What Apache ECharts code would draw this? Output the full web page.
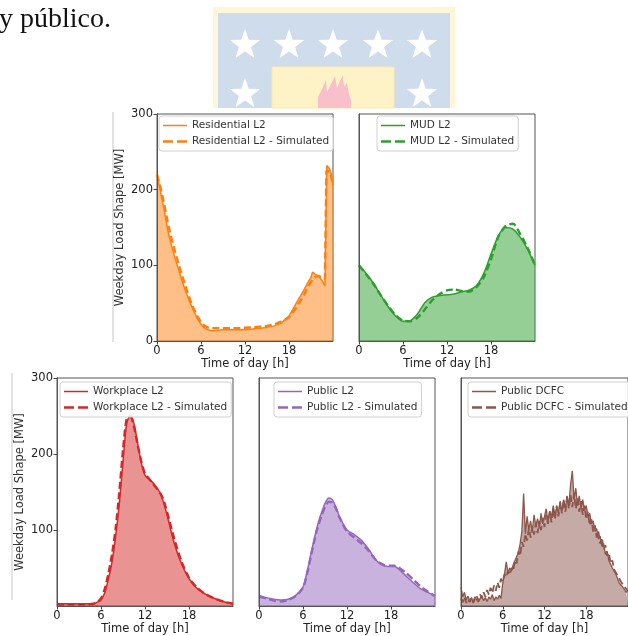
<!DOCTYPE html>
<html><head><meta charset="utf-8">
<script src="https://cdn.jsdelivr.net/npm/echarts@6/dist/echarts.min.js"></script>
<style>html,body{margin:0;padding:0;background:#fff}#c{width:628px;height:636px}</style>
</head><body><div id="c"></div>
<script>
// ---------- tick labels ----------
const xTicks = [0, 6, 12, 18];
const yTicksTop = [0, 100, 200, 300];
const yTicksBottom = [100, 200, 300];

// ---------- Residential L2 ----------
const resHours = [0,0.5,1,1.5,2,2.5,3,3.5,4,4.5,5,5.5,6,6.5,7,7.5,8,9,10,11,12,13,14,15,16,17,18,19,20,20.5,21,21.2,21.6,22,22.5,22.9,23.15,23.5,23.8,24];
const resObs   = [222,196,172,145,125,108,93,77,63,51,40,30,22,17,14.5,13.5,14,15,15,15,15,16,17,18,20,24,33,50,67,76,84,91,88,86,80,73,232,228,220,206];
const resSimHours = [0,0.5,1,1.5,2,2.5,3,3.5,4,4.5,5,5.5,6,6.5,7,7.5,8,9,10,11,12,13,14,15,16,17,18,19,20,20.5,21,21.5,22,22.5,22.9,23.1,23.5,23.8,24];
const resSim   = [220,202,180,155,135,117,100,84,69,55,43,33,25,20,17.5,17,17,17,17,17,17.5,18,19,20,22,26,31,44,60,70,78,84,86,84,82,225,224,215,208];

// ---------- MUD L2 ----------
const mudHours = [0,1,2,3,4,5,6,7,8,9,10,11,12,13,14,15,16,17,18,19,20,21,22,23,24];
const mudObs = [100,89,76,60,45,33,26,27,36,51,58,60,61,62,65,67,73,89,115,139,150,148,137,121,100];
const mudSim = [100,88,75,60,46,34,27,26,31,42,54,62,67,68,66,65,71,84,108,138,152,155,141,123,100];

// ---------- Workplace L2 ----------
const wpHours = [0,1,2,3,4,5,5.5,6,6.5,7,7.5,8,8.5,9,9.5,10,10.5,11,11.5,12,12.5,13,13.5,14,14.5,15,16,17,18,19,20,21,22,23,24];
const wpObs = [3,3,3,3,3,3,5,8,17,35,58,92,135,190,240,251,240,214,188,172,167,163,157,150,137,120,82,55,36,24,17,12,8,5,3];
const wpSim = [2,2,2,2,2,3,5,10,22,42,68,102,150,205,246,249,236,212,190,174,168,162,156,150,140,124,88,58,37,25,17,12,8,5,3];

// ---------- Public L2 ----------
const puHours = [0,1,2,3,4,5,6,6.5,7,7.5,8,8.5,9,9.5,10,10.5,11,12,13,14,15,16,17,18,18.5,19,20,21,22,23,24];
const puObs = [14,11,9,8,9,14,25,43,65,87,107,122,135,142,140,130,117,100,94,86,74,60,53,52,52,49,40,31,23,18,14];
const puSim = [12,10,7,6,8,13,24,40,62,84,103,118,130,137,136,128,116,98,90,82,72,60,54,53,53,51,44,35,26,19,13];

// ---------- Public DCFC (quarter-hour samples from 0 h to 24 h) ----------
const dcHours = [0,0.25,0.5,0.75,1,1.25,1.5,1.75,2,2.25,2.5,2.75,3,3.25,3.5,3.75,4,4.25,4.5,4.75,5,5.25,5.5,5.75,6,6.25,6.5,6.75,7,7.25,7.5,7.75,8,8.25,8.5,8.75,9,9.25,9.5,9.75,10,10.25,10.5,10.75,11,11.25,11.5,11.75,12,12.25,12.5,12.75,13,13.25,13.5,13.75,14,14.25,14.5,14.75,15,15.25,15.5,15.75,16,16.25,16.5,16.75,17,17.25,17.5,17.75,18,18.25,18.5,18.75,19,19.25,19.5,19.75,20,20.25,20.5,20.75,21,21.25,21.5,21.75,22,22.25,22.5,22.75,23,23.25,23.5,23.75,24];
const dcObs = [25,12,18,8,13,7,11,6,12,8,5,10,14,7,11,6,12,9,15,7,12,9,14,10,30,42,58,44,50,46,54,60,58,70,82,98,148,95,118,100,112,98,120,105,115,102,122,108,118,128,110,125,116,132,120,130,122,138,125,140,128,145,132,160,178,140,155,132,145,128,140,126,132,118,122,108,112,98,102,88,92,78,82,68,72,60,62,50,52,42,40,30,32,25,24,18,20];
const dcSim = [10,5,12,4, 9,5,11,4, 9,13,7,15, 10,18,12,21, 15,24,17,27, 20,31,24,36, 32,42,38,46, 41,50,46,60, 56,72,66,84, 78,95,86,102, 90,104,94,108, 96,112,100,116, 104,120,108,124, 110,128,114,132, 118,136,122,140, 124,144,128,146, 130,148,128,142, 124,138,120,132, 114,124,106,114, 98,106,90,98, 82,90,74,80, 66,70,56,60, 48,50,40,40, 32,32,25,24, 20];

const pairs = (h, v) => h.map((x, i) => [x, v[i]]);

const C = {orange:'#ff7f0e', green:'#2ca02c', red:'#d62728', purple:'#9467bd', brown:'#8c564b'};
const FONT = 'DejaVu Sans';

const grids = [
  {left:157, top:114, width:176, height:227},
  {left:359, top:114, width:176, height:227},
  {left:57,  top:378, width:176, height:228},
  {left:259, top:378, width:176, height:228},
  {left:461, top:378, width:176, height:228}
].map(g => Object.assign({show:true, borderColor:'#555', borderWidth:1, backgroundColor:'transparent'}, g));

const xAxes = grids.map((g, i) => ({
  type:'value', gridIndex:i, min:0, max:24, z:10,
  axisLine:{show:true, lineStyle:{color:'#555', width:1}},
  axisTick:{show:true, customValues:xTicks, length:3.5, lineStyle:{color:'#444'}},
  axisLabel:{customValues:xTicks, margin:4, fontSize:11.5, fontFamily:FONT, color:'#222'},
  splitLine:{show:false},
  name:'Time of day [h]', nameLocation:'middle', nameGap:17,
  nameTextStyle:{fontSize:11.5, fontFamily:FONT, color:'#222'}
}));

const yAxes = grids.map((g, i) => {
  const labeled = (i === 0 || i === 2);
  const ticks = i === 0 ? yTicksTop : yTicksBottom;
  const ax = {
    type:'value', gridIndex:i, min:0, max:300, z:10,
    axisLine:{show:true, lineStyle:{color:'#555', width:1}},
    splitLine:{show:false},
    axisTick:{show:labeled, customValues:ticks, length:3.5, lineStyle:{color:'#444'}},
    axisLabel:{show:labeled, customValues:ticks, margin:4, fontSize:11.5, fontFamily:FONT, color:'#222'}
  };
  if (labeled) {
    ax.name = 'Weekday Load Shape [MW]';
    ax.nameLocation = 'middle';
    ax.nameGap = 31;
    ax.nameTextStyle = {fontSize:11.5, fontFamily:FONT, color:'#333'};
  }
  return ax;
});

function obs(name, gi, data, color, width, smooth) {
  return {name, type:'line', xAxisIndex:gi, yAxisIndex:gi, data, symbol:'none', smooth:smooth,
    lineStyle:{color, width:width}, itemStyle:{color},
    areaStyle:{color, opacity:0.5, origin:'start'}, z:2};
}
function sim(name, gi, data, color, width, smooth) {
  return {name, type:'line', xAxisIndex:gi, yAxisIndex:gi, data, symbol:'none', smooth:smooth,
    lineStyle:{color, width:width, type:[7,3.5]}, itemStyle:{color}, z:3};
}

const series = [
  obs('Residential L2', 0, pairs(resHours, resObs), C.orange, 1.5, false),
  sim('Residential L2 - Simulated', 0, pairs(resSimHours, resSim), C.orange, 2.4, false),
  obs('MUD L2', 1, pairs(mudHours, mudObs), C.green, 1.5, 0.25),
  sim('MUD L2 - Simulated', 1, pairs(mudHours, mudSim), C.green, 2.4, 0.25),
  obs('Workplace L2', 2, pairs(wpHours, wpObs), C.red, 1.5, 0.25),
  sim('Workplace L2 - Simulated', 2, pairs(wpHours, wpSim), C.red, 2.4, 0.25),
  obs('Public L2', 3, pairs(puHours, puObs), C.purple, 1.5, 0.25),
  sim('Public L2 - Simulated', 3, pairs(puHours, puSim), C.purple, 2.4, 0.25),
  obs('Public DCFC', 4, pairs(dcHours, dcObs), C.brown, 1.3, false),
  sim('Public DCFC - Simulated', 4, pairs(dcHours, dcSim), C.brown, 1.8, false)
];

const SOLID_ICON = 'path://M0,0h24v1.5h-24z';
const DASH_ICON = 'path://M0,0h10v2.6h-10z M14,0h10v2.6h-10z';

const legendBase = {
  orient:'vertical', itemWidth:24, itemHeight:10, itemGap:5, symbolKeepAspect:true,
  padding:[4,4,4,4], backgroundColor:'rgba(255,255,255,0.85)', borderColor:'#d0d0d0', borderWidth:1, borderRadius:3,
  textStyle:{fontSize:10.5, fontFamily:FONT, color:'#333'}, selectedMode:false
};
const legPos = [
  {left:159, top:116, names:['Residential L2','Residential L2 - Simulated']},
  {left:377, top:116, names:['MUD L2','MUD L2 - Simulated']},
  {left:60,  top:382, names:['Workplace L2','Workplace L2 - Simulated']},
  {left:274, top:382, names:['Public L2','Public L2 - Simulated']},
  {left:468, top:382, names:['Public DCFC','Public DCFC - Simulated']}
];
const legends = legPos.map(p => Object.assign({}, legendBase, {
  left:p.left, top:p.top,
  data:[{name:p.names[0], icon:SOLID_ICON}, {name:p.names[1], icon:DASH_ICON}]
}));

function starPts(cx, cy, R) {
  const pts = [];
  for (let k = 0; k < 10; k++) {
    const r = k % 2 ? R * 0.4 : R;
    const a = -Math.PI / 2 + k * Math.PI / 5;
    pts.push([cx + r * Math.cos(a), cy + r * Math.sin(a)]);
  }
  return pts;
}
const logo = [
  {type:'rect', shape:{x:213, y:7, width:242, height:101}, style:{fill:'#fdf6d9'}},
  {type:'rect', shape:{x:218, y:13, width:232, height:95}, style:{fill:'#cfdcec'}},
  {type:'rect', shape:{x:272, y:67, width:122, height:41}, style:{fill:'#fdf3c6', stroke:'#fbe9a6', lineWidth:1}}
];
[245, 289, 333, 378, 422].forEach(x => logo.push({type:'polygon', shape:{points:starPts(x, 45, 16)}, style:{fill:'#ffffff'}}));
[245, 422].forEach(x => logo.push({type:'polygon', shape:{points:starPts(x, 94, 16)}, style:{fill:'#ffffff'}}));
logo.push({type:'polygon', shape:{points:[[318,108],[318,97],[322,89],[326,80],[327,92],[331,84],[335,76],[337,88],[340,81],[343,75],[344,87],[347,83],[349,94],[351,100],[351,108]]}, style:{fill:'#f8c0ca'}});

const graphics = logo.concat([
  {type:'text', x:-1, y:6, style:{text:'y público.', font:'28px "Liberation Serif"', fill:'#111'}},
  {type:'line', shape:{x1:113, y1:112, x2:113, y2:342}, style:{stroke:'#c6c6c6', lineWidth:1}},
  {type:'line', shape:{x1:12, y1:373, x2:12, y2:600}, style:{stroke:'#c6c6c6', lineWidth:1}}
]);

const chart = echarts.init(document.getElementById('c'), null, {renderer:'canvas'});
chart.setOption({
  animation:false,
  backgroundColor:'#fff',
  grid:grids, xAxis:xAxes, yAxis:yAxes, series, legend:legends, graphic:graphics
});
</script></body></html>
